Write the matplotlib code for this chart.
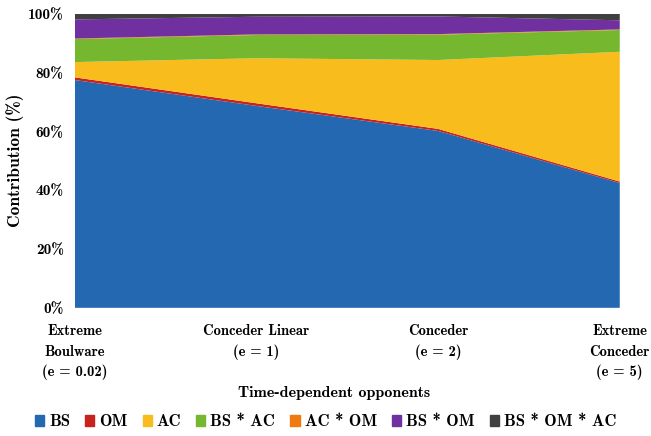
import matplotlib
matplotlib.use("Agg")
import matplotlib.pyplot as plt
from matplotlib.patches import Patch

plt.rcParams['font.family'] = ['cmb10', 'DejaVu Serif']
plt.rcParams['axes.unicode_minus'] = False

# opponents (x categories)
opponents = ["Extreme\nBoulware\n(e = 0.02)", "Conceder Linear\n(e = 1)",
             "Conceder\n(e = 2)", "Extreme\nConceder\n(e = 5)"]

# contribution of each component, in %
bs = [77.4, 68.6, 60.1, 42.4]
om = [0.9, 0.9, 0.7, 0.5]
ac = [5.2, 15.3, 23.4, 44.1]
bs_ac = [7.8, 7.9, 8.6, 7.4]
ac_om = [0.2, 0.2, 0.2, 0.2]
bs_om = [6.5, 6.0, 6.0, 3.1]
bs_om_ac = [2.0, 1.1, 1.0, 2.3]

names = ["BS", "OM", "AC", "BS * AC", "AC * OM", "BS * OM", "BS * OM * AC"]
colors = ["#2368b0", "#c8221e", "#f8bd1c", "#75b72e", "#ef7a12", "#7030a0", "#404040"]

fig = plt.figure(figsize=(6.51, 4.36), dpi=100)
ax = fig.add_axes([0.115, 0.294, 0.837, 0.675])

x = list(range(len(opponents)))
ax.stackplot(x, bs, om, ac, bs_ac, ac_om, bs_om, bs_om_ac, colors=colors, linewidth=0)

ax.set_xlim(0, len(opponents) - 1)
ax.set_ylim(0, 100)
ax.set_yticks([0, 20, 40, 60, 80, 100])
ax.set_yticklabels([f"{v}%" for v in [0, 20, 40, 60, 80, 100]], fontsize=11)
ax.set_xticks(x)
ax.set_xticklabels(opponents, fontsize=10.5, linespacing=1.55)
ax.tick_params(length=0, pad=8)
ax.tick_params(axis='x', pad=12)
for s in ax.spines.values():
    s.set_visible(False)

ax.set_ylabel("Contribution (%)", fontsize=12.5)
ax.yaxis.set_label_coords(-0.093, 0.5)
fig.text(0.513, 0.098, "Time-dependent opponents", fontsize=11.5, ha='center', va='center')

handles = [Patch(color=c, label=n) for n, c in zip(names, colors)]
fig.legend(handles=handles, loc='center', bbox_to_anchor=(0.5, 0.033), ncol=7,
           frameon=False, fontsize=12, handlelength=0.55, handleheight=0.6,
           handletextpad=0.3, columnspacing=0.9)

fig.savefig("out.png", dpi=100)
